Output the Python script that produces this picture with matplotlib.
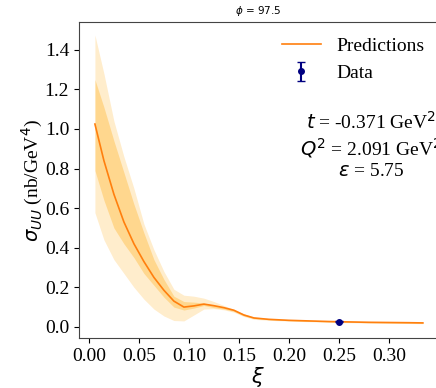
import matplotlib
matplotlib.use('Agg')
import matplotlib.pyplot as plt
import numpy as np

plt.rcParams['font.family'] = 'serif'
plt.rcParams['font.serif'] = ['Liberation Serif', 'DejaVu Serif']
plt.rcParams['mathtext.fontset'] = 'dejavusans'

# values
xi = [0.006, 0.015, 0.025, 0.035, 0.045, 0.055, 0.065, 0.075, 0.085, 0.095,
      0.105, 0.115, 0.125, 0.135, 0.145, 0.155, 0.165, 0.18, 0.20, 0.22,
      0.24, 0.26, 0.28, 0.30, 0.32, 0.334]
sigma = [1.025, 0.84, 0.67, 0.53, 0.42, 0.33, 0.25, 0.185, 0.13, 0.100,
         0.106, 0.115, 0.107, 0.097, 0.084, 0.060, 0.045, 0.038, 0.033, 0.030,
         0.027, 0.025, 0.023, 0.022, 0.021, 0.020]
inner_hi = [1.25, 1.11, 0.94, 0.78, 0.62, 0.475, 0.34, 0.24, 0.155, 0.128,
            0.125, 0.12, 0.11, 0.098, 0.085, 0.065, 0.048, 0.040, 0.035, 0.032,
            0.029, 0.027, 0.025, 0.024, 0.023, 0.022]
inner_lo = [0.79, 0.64, 0.50, 0.42, 0.35, 0.27, 0.21, 0.15, 0.10, 0.085,
            0.095, 0.108, 0.097, 0.09, 0.078, 0.055, 0.042, 0.036, 0.031, 0.028,
            0.025, 0.023, 0.021, 0.020, 0.019, 0.018]
outer_hi = [1.475, 1.28, 1.04, 0.86, 0.70, 0.52, 0.39, 0.28, 0.19, 0.16,
            0.155, 0.145, 0.128, 0.108, 0.088, 0.066, 0.051, 0.042, 0.037, 0.034,
            0.031, 0.029, 0.027, 0.026, 0.025, 0.024]
outer_lo = [0.577, 0.44, 0.34, 0.27, 0.20, 0.14, 0.09, 0.055, 0.032, 0.030,
            0.06, 0.09, 0.092, 0.086, 0.074, 0.052, 0.038, 0.033, 0.029, 0.026,
            0.023, 0.021, 0.019, 0.018, 0.017, 0.016]

data_xi = [0.25]
data_sigma = [0.026]
data_err = [0.002]

fig = plt.figure(figsize=(4.36, 3.88), dpi=100)
ax = fig.add_axes([0.181, 0.129, 0.821, 0.814])

ax.fill_between(xi, outer_lo, outer_hi, color='orange', alpha=0.2, lw=0)
ax.fill_between(xi, inner_lo, inner_hi, color='orange', alpha=0.3, lw=0)
ax.plot(xi, sigma, color='#ff7f0e', lw=1.2, label='Predictions')
ax.errorbar(data_xi, data_sigma, yerr=data_err, fmt='o', color='navy',
            markersize=4, capsize=3, label='Data')

ax.set_xlim(-0.010, 0.348)
ax.set_ylim(-0.056, 1.54)
ax.set_xticks(np.arange(0, 0.31, 0.05))
ax.set_yticks(np.arange(0, 1.41, 0.2))
ax.tick_params(labelsize=14)
ax.spines['right'].set_visible(False)
for s in ['left', 'bottom', 'top']:
    ax.spines[s].set_color('#444444')

ax.set_title(r'$\phi$ = 97.5', fontsize=7.5, family='DejaVu Sans')
ax.set_xlabel(r'$\xi$', fontsize=15, labelpad=0)
ax.set_ylabel(r'$\sigma_{UU}$ (nb/GeV$^4$)', fontsize=14, labelpad=0)

ax.text(0.816, 0.61, '$t$ = -0.371 GeV$^2$\n$Q^2$ = 2.091 GeV$^2$\n$\\epsilon$ = 5.75',
        transform=ax.transAxes, ha='center', va='center', fontsize=14,
        multialignment='center')
ax.legend(loc='upper right', frameon=False, fontsize=14,
          bbox_to_anchor=(1.014, 1.008))

fig.savefig('out.png', dpi=100)
